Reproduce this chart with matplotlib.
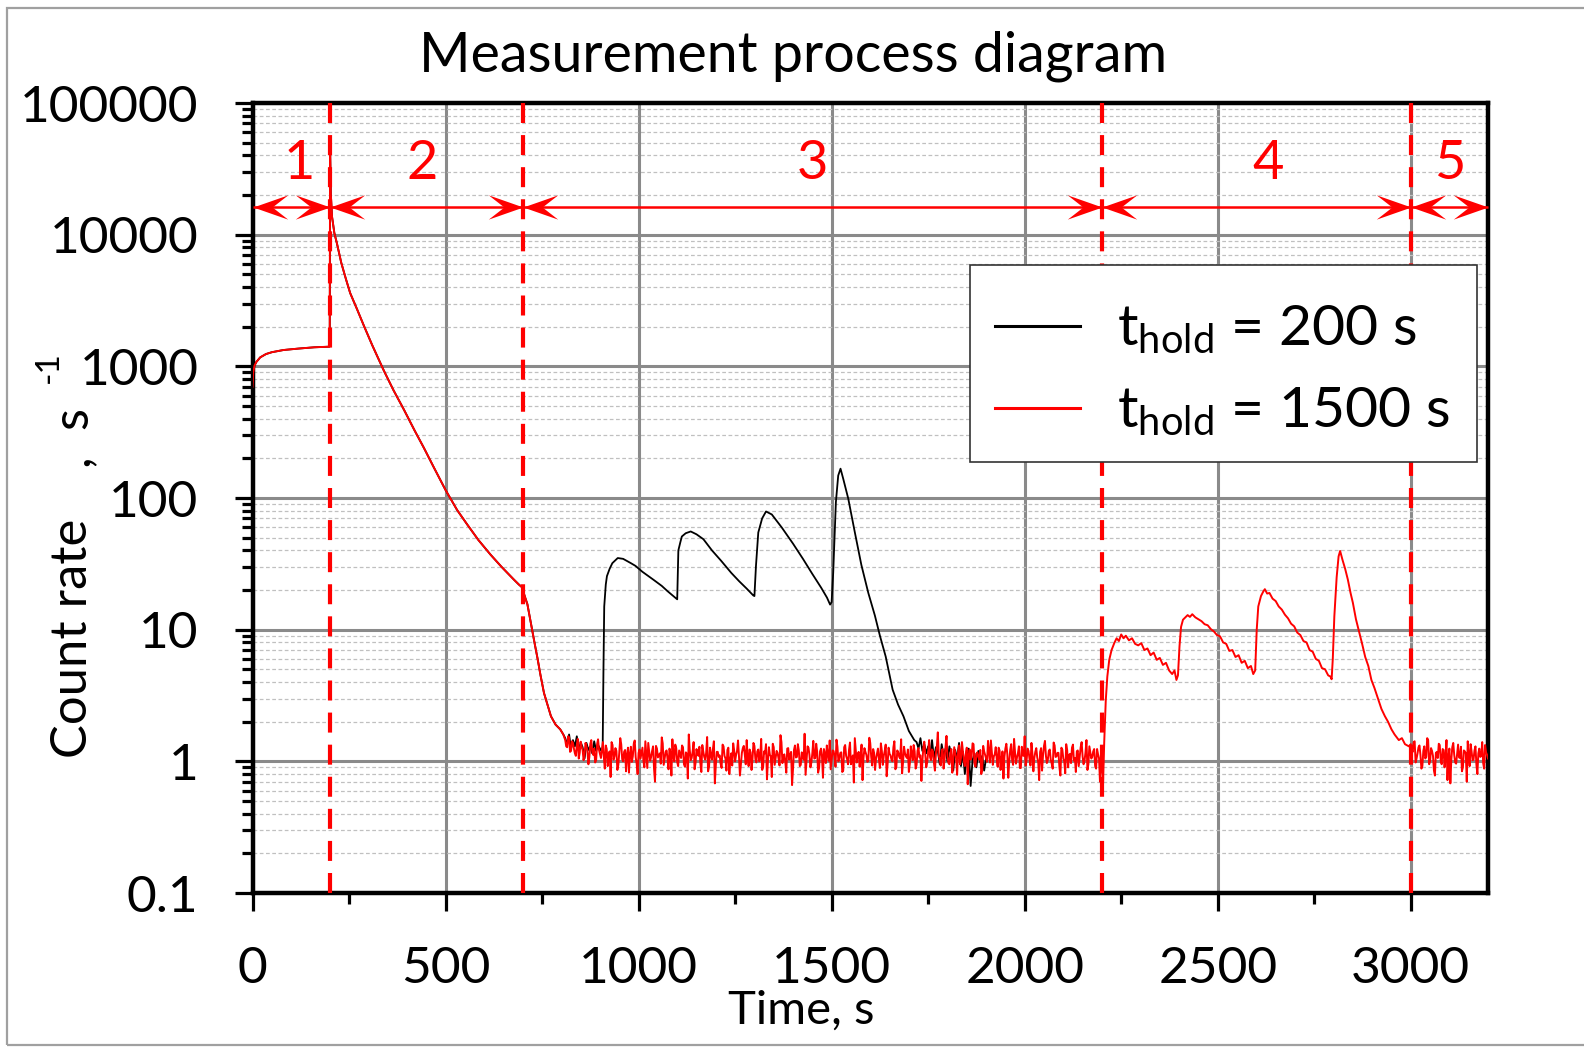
import numpy as np
import matplotlib
matplotlib.use('Agg')
import matplotlib.pyplot as plt
from matplotlib.path import Path
from matplotlib.lines import Line2D
from matplotlib.patches import Rectangle
from matplotlib.ticker import FixedLocator, LogLocator, NullFormatter, FixedFormatter, MultipleLocator

plt.rcParams['font.family'] = ['Lato', 'DejaVu Sans']
plt.rcParams['mathtext.fontset'] = 'custom'
plt.rcParams['mathtext.rm'] = 'Lato'
plt.rcParams['mathtext.it'] = 'Lato:italic'
plt.rcParams['mathtext.bf'] = 'Lato:bold'

# ---------------- data ----------------
# common part (regions 1 and 2, and start of 3)
decay_t = [0, 2, 5, 10, 20, 35, 50, 80, 120, 160, 199, 200, 201, 203, 206, 212, 219, 230, 242,
           253, 270, 288, 310, 340, 365, 392, 420, 444, 470, 500, 530, 556, 585, 617, 645, 677,
           690, 698, 705, 712, 718, 725, 731, 738, 746, 755, 764, 773, 785, 797, 805]
decay_v = [700, 900, 1010, 1080, 1170, 1240, 1280, 1330, 1365, 1395, 1410, 1420, 45000, 20000, 13700,
           10300, 8500, 6100, 4600, 3600, 2750, 2050, 1450, 930, 660, 470, 325, 240, 170, 115, 81,
           63, 48, 37, 30, 24, 22, 21, 18, 15.6, 12.5, 9.7, 7.8, 6.1, 4.5, 3.3, 2.7, 2.2, 1.9, 1.75, 1.6]

# background noise samples: main samples every 5 s, plus samples in between (offset 2.5 s)
noise_step = 5
red_noise_start = 810
red_noise = [
    1.45, 1.28, 1.52, 1.20, 1.38, 1.15, 1.33, 1.05, 1.41, 1.22, 1.12, 1.30, 0.95, 1.36, 1.18, 1.25, 1.02, 1.47, 1.14, 1.21,
    1.08, 1.32, 0.92, 1.19, 1.40, 1.03, 1.26, 0.86, 1.17, 1.35, 1.00, 1.22, 1.12, 0.82, 1.29, 1.09, 1.44, 0.96, 1.16, 1.05,
    1.27, 0.90, 1.13, 1.38, 1.01, 1.20, 0.88, 1.31, 1.07, 1.15, 1.52, 0.94, 1.18, 1.04, 1.25, 0.78, 1.11, 1.34, 0.99, 1.21,
    1.06, 1.28, 0.91, 1.14, 1.60, 1.02, 1.19, 0.87, 1.24, 1.10, 0.97, 1.33, 1.08, 1.16, 0.84, 1.27, 1.03, 1.42, 0.93, 1.18,
    1.11, 0.89, 1.30, 1.05, 1.22, 0.80, 1.15, 1.37, 1.00, 1.20, 1.09, 0.95, 1.26, 1.13, 1.45, 0.92, 1.17, 1.04, 1.31, 0.98,
    1.23, 1.07, 0.86, 1.19, 1.35, 1.01, 1.12, 0.76, 1.28, 1.06, 1.16, 0.93, 1.40, 1.10, 0.99, 1.25, 1.03, 1.18, 0.88, 1.32,
    1.08, 1.21, 0.94, 1.14, 1.62, 1.00, 1.27, 0.90, 1.15, 1.05, 1.36, 0.82, 1.19, 1.09, 1.24, 0.97, 1.13, 1.44, 1.02, 1.20,
    0.91, 1.29, 1.06, 1.17, 0.85, 1.33, 1.04, 1.22, 0.95, 1.11, 1.50, 0.98, 1.18, 1.07, 0.72, 1.26, 1.12, 1.01, 1.38, 0.93,
    1.16, 1.05, 1.25, 0.89, 1.20, 1.10, 1.34, 0.96, 1.14, 1.03, 1.28, 0.87, 1.21, 1.08, 1.47, 0.99, 1.15, 1.06, 0.83, 1.30,
    1.02, 1.19, 0.94, 1.26, 1.11, 1.00, 1.41, 0.90, 1.17, 1.07, 1.23, 0.97, 1.13, 1.66, 1.04, 1.20, 0.88, 1.29, 1.09, 0.95,
    1.24, 1.01, 1.16, 0.79, 1.32, 1.06, 1.18, 0.92, 1.27, 1.12, 1.03, 1.37, 0.96, 1.14, 1.08, 1.22, 0.86, 1.19, 1.05, 1.43,
    0.98, 1.15, 1.09, 1.28, 0.91, 1.21, 1.04, 0.74, 1.25, 1.13, 1.00, 1.35, 0.94, 1.17, 1.07, 1.30, 0.89, 1.11, 1.55, 1.02,
    1.20, 0.93, 1.14, 1.06, 1.26, 0.99, 1.18, 0.85, 1.31, 1.10, 1.03, 1.23, 0.96, 1.39, 1.08, 1.16, 0.90, 1.27, 1.05, 0.81,
    1.22, 1.12, 0.97, 1.34, 1.06, 1.19, 0.92, 1.28, 1.09, 1.01, 1.45, 0.95, 1.17, 1.08, 1.24, 0.88, 1.13, 0.70]
red_noise_mid = [
    1.30, 1.55, 1.18, 1.42, 1.25, 1.10, 1.48, 1.16, 1.29, 1.02, 1.38, 1.20, 1.08, 1.45, 1.12, 0.98, 1.35, 1.22, 1.06, 1.40,
    0.88, 1.24, 1.14, 0.76, 1.33, 1.09, 1.20, 0.94, 1.50, 1.04, 1.18, 0.84, 1.27, 1.13, 0.99, 1.36, 1.07, 0.80, 1.23, 1.15,
    1.01, 1.42, 0.89, 1.19, 1.08, 1.30, 0.70, 1.25, 1.11, 0.96, 1.37, 1.05, 1.21, 0.87, 1.16, 1.47, 1.00, 1.26, 0.92, 1.13,
    1.32, 0.95, 1.17, 0.74, 1.22, 1.06, 1.40, 0.97, 1.14, 1.29, 0.83, 1.19, 1.03, 1.53, 0.91, 1.12, 1.24, 0.68, 1.18, 1.08,
    0.96, 1.34, 1.10, 0.85, 1.27, 1.02, 0.93, 1.21, 1.12, 1.44, 0.78, 1.16, 1.31, 0.95, 1.07, 1.23, 0.86, 1.38, 1.04, 1.19,
    1.00, 1.48, 0.90, 1.15, 0.73, 1.28, 1.09, 1.36, 0.94, 1.20, 1.05, 1.58, 0.97, 1.13, 0.82, 1.26, 1.11, 0.66, 1.22, 1.07,
    1.35, 0.92, 1.17, 1.03, 0.79, 1.30, 1.12, 0.98, 1.43, 1.06, 1.18, 0.89, 1.25, 0.75, 1.14, 1.32, 1.01, 0.87, 1.21, 1.09,
    1.46, 1.00, 1.16, 0.83, 1.28, 1.10, 0.95, 1.39, 1.04, 0.69, 1.22, 1.13, 0.91, 1.34, 1.06, 1.18, 0.99, 1.51, 1.08, 1.24,
    0.86, 1.15, 1.03, 1.37, 0.94, 1.20, 0.77, 1.27, 1.11, 1.00, 1.42, 0.90, 1.17, 1.05, 0.81, 1.29, 1.09, 1.23, 0.96, 1.14,
    1.33, 0.88, 1.21, 1.07, 0.71, 1.26, 1.12, 0.98, 1.45, 1.02, 1.19, 0.85, 1.30, 1.10, 0.93, 1.24, 1.04, 1.56, 0.97, 1.16,
    0.82, 1.28, 1.06, 1.18, 0.95, 1.40, 1.01, 1.14, 0.67, 1.23, 1.09, 1.35, 0.91, 1.17, 1.03, 0.80, 1.31, 1.12, 0.99, 1.20,
    1.44, 0.94, 1.13, 1.05, 1.27, 0.86, 1.19, 1.08, 1.36, 0.75, 1.22, 1.02, 1.48, 0.96, 1.15, 0.89, 1.29, 1.10, 0.93, 1.25,
    1.04, 1.38, 0.84, 1.18, 1.07, 0.72, 1.26, 1.11, 1.43, 0.97, 1.20, 1.03, 0.88, 1.32, 1.09, 1.16, 0.78, 1.23, 1.00, 1.35,
    0.90, 1.14, 1.27, 1.01, 0.83, 1.21, 1.08, 1.40, 0.95, 1.17, 0.86, 1.30, 1.05, 1.19, 0.92, 1.24, 1.06, 0.98]

# region 4 peaks (t_hold = 1500 s)
red_peak_t = [2200, 2203, 2206, 2210, 2214, 2219, 2225, 2232, 2238, 2244, 2250, 2256, 2262, 2270, 2278, 2286,
              2294, 2302, 2310, 2318, 2326, 2334, 2342, 2350, 2358, 2366, 2374, 2382, 2388, 2393, 2397, 2401,
              2405, 2410, 2416, 2422, 2428, 2434, 2442, 2450, 2458, 2466, 2474, 2482, 2490, 2498, 2506, 2514,
              2522, 2530, 2538, 2546, 2554, 2562, 2570, 2578, 2586, 2592, 2597, 2601, 2605, 2612, 2618, 2622,
              2628, 2634, 2642, 2650, 2658, 2666, 2674, 2682, 2690, 2698, 2706, 2714, 2722, 2730, 2738, 2746,
              2754, 2762, 2770, 2778, 2786, 2792, 2795, 2798, 2802, 2808, 2813, 2817, 2823, 2830, 2837, 2844,
              2850, 2858, 2867, 2874, 2882, 2890, 2898, 2906, 2915, 2924, 2933, 2941, 2950, 2958, 2969, 2977,
              2985, 2995]
red_peak_v = [0.95, 0.68, 1.4, 2.9, 4.4, 5.9, 7.0, 7.9, 8.6, 8.2, 9.2, 8.6, 9.0, 8.3, 8.6, 7.8,
              7.6, 7.9, 7.0, 7.2, 6.4, 6.7, 5.9, 6.1, 5.4, 5.6, 4.9, 4.6, 4.9, 4.15, 4.5, 7.5,
              10.5, 11.9, 12.4, 12.9, 12.5, 13.1, 12.4, 12.0, 11.6, 11.0, 10.8, 10.1, 9.7, 9.1, 8.9, 8.0,
              7.8, 6.9, 7.0, 6.2, 6.4, 5.6, 5.8, 5.1, 5.3, 4.6, 4.9, 10.0, 15.0, 18.0, 19.5, 20.3,
              18.8, 19.0, 17.2, 16.5, 15.0, 14.2, 13.0, 12.2, 11.1, 10.6, 9.5, 9.1, 8.2, 8.0, 7.0, 6.8,
              6.0, 5.8, 5.1, 5.0, 4.5, 4.4, 4.2, 6.0, 12.6, 25.0, 36.0, 39.6, 34.0, 29.0, 24.0, 19.0,
              16.0, 12.0, 9.4, 7.8, 6.2, 5.3, 4.15, 3.6, 3.0, 2.5, 2.2, 2.0, 1.75, 1.6, 1.45, 1.5,
              1.35, 1.3]

red_end_start = 3000
red_end_noise = [
    1.35, 1.18, 1.42, 1.05, 1.28, 1.12, 0.92, 1.30, 1.08, 1.45, 1.00, 1.20, 0.85, 1.16, 1.06, 1.33, 0.95, 1.22, 1.10, 0.72,
    1.25, 1.03, 1.38, 0.98, 1.14, 1.07, 1.29, 0.90, 1.19, 0.70, 1.11, 1.35, 1.02, 1.21, 0.94, 1.15, 1.08, 1.40, 0.88, 1.17, 1.05]
red_end_mid = [
    1.22, 1.40, 0.98, 1.15, 1.32, 0.88, 1.20, 1.05, 1.50, 0.95, 1.26, 1.10, 0.78, 1.18, 1.36, 1.02, 1.24, 0.90, 1.45, 1.08,
    0.68, 1.28, 1.12, 0.96, 1.34, 1.06, 0.84, 1.21, 1.15, 1.42, 0.92, 1.19, 1.03, 1.30, 0.80, 1.25, 1.10, 0.97, 1.33, 1.12]

# t_hold = 200 s series
black_noise1_start = 810
black_noise1 = [1.50, 1.35, 1.60, 1.25, 1.45, 1.30, 1.55, 1.20, 1.40, 1.28, 1.05, 1.38, 1.22, 1.30, 1.15, 1.42, 1.20,
                1.33, 1.25, 1.18]
black_peak_t = [907, 909, 911, 915, 918, 925, 932, 946, 960, 980, 992, 1010, 1038, 1060, 1075, 1095, 1100,
                1103, 1108, 1112, 1122, 1135, 1150, 1168, 1190, 1214, 1240, 1260, 1280, 1297, 1300,
                1304, 1310, 1320, 1330, 1345, 1371, 1400, 1426, 1450, 1473, 1488, 1496, 1500,
                1504, 1511, 1517, 1523, 1530, 1543, 1560, 1577, 1595, 1612, 1625, 1640, 1658, 1672,
                1686, 1700, 1714]
black_peak_v = [1.3, 5.0, 15.0, 22.0, 25.5, 29.0, 32.0, 35.0, 34.5, 32.0, 30.5, 27.5, 24.0, 21.5, 19.6, 17.5, 17.0,
                40.0, 46.0, 51.0, 54.0, 55.7, 53.0, 48.6, 40.0, 33.3, 27.0, 23.4, 20.5, 18.2, 18.0,
                30.5, 54.7, 70.0, 79.0, 75.0, 59.6, 45.0, 34.4, 26.5, 20.8, 17.5, 15.5, 16.2,
                27.0, 93.0, 148.0, 167.0, 140.0, 99.0, 55.0, 31.0, 19.0, 12.8, 9.0, 6.25, 3.5, 2.7,
                2.2, 1.7, 1.45]
black_noise2_start = 1720
black_noise2 = [1.40, 1.25, 1.50, 1.20, 1.35, 1.15, 1.30, 1.10, 1.45, 1.05, 1.28, 1.20, 0.95, 1.35, 1.10, 1.25, 1.00,
                1.30, 1.12, 0.85, 1.22, 1.05, 1.38, 0.92, 1.18, 0.80, 1.10, 1.25, 0.65, 1.02, 1.15, 0.90, 1.20,
                0.98, 1.10, 0.85, 1.05]

boundaries = [0, 200, 700, 2200, 3000, 3200]
region_labels = ['1', '2', '3', '4', '5']
region_label_x = [120, 440, 1450, 2630, 3100]
x_ticks = [0, 500, 1000, 1500, 2000, 2500, 3000]
y_ticks = [0.1, 1, 10, 100, 1000, 10000, 100000]
y_ticklabels = ['0.1', '1', '10', '100', '1000', '10000', '100000']
legend_labels = [r't$_{\mathregular{hold}}$ = 200 s', r't$_{\mathregular{hold}}$ = 1500 s']


# ---------------- assemble series ----------------
def seg(start, vals):
    return [start + noise_step * i for i in range(len(vals))]


def interleave(start, main, mid):
    ts, vs = [], []
    for i, v in enumerate(main):
        ts.append(start + noise_step * i)
        vs.append(v)
        if i < len(mid):
            ts.append(start + noise_step * i + noise_step / 2)
            vs.append(mid[i])
    return ts, vs


rn_t, rn_v = interleave(red_noise_start, red_noise, red_noise_mid)
re_t, re_v = interleave(red_end_start, red_end_noise, red_end_mid)

t_black = decay_t + seg(black_noise1_start, black_noise1) + black_peak_t + seg(black_noise2_start, black_noise2)
v_black = decay_v + black_noise1 + black_peak_v + black_noise2
t_red = decay_t + rn_t + red_peak_t + re_t
v_red = decay_v + rn_v + red_peak_v + re_v

# ---------------- figure ----------------
W, H = 1584, 1047
fig = plt.figure(figsize=(W / 100, H / 100), dpi=100)
ax = fig.add_axes([252.5 / W, 1 - 893 / H, (1488 - 252.5) / W, (893 - 103) / H])
ax.set_yscale('log')
ax.set_xlim(0, 3200)
ax.set_ylim(0.1, 1e5)

ax.xaxis.set_major_locator(FixedLocator(x_ticks))
ax.xaxis.set_minor_locator(MultipleLocator(250))
ax.yaxis.set_major_locator(FixedLocator(y_ticks))
ax.yaxis.set_major_formatter(FixedFormatter(y_ticklabels))
ax.yaxis.set_minor_locator(LogLocator(base=10, subs=np.arange(2, 10), numticks=20))
ax.yaxis.set_minor_formatter(NullFormatter())

ax.grid(True, which='major', axis='both', color='#8a8a8a', lw=2.2, zorder=0)
ax.grid(True, which='minor', axis='y', color='#c0c0c0', lw=0.9, ls=(0, (3, 2)), zorder=0)
ax.set_axisbelow(True)

for s in ax.spines.values():
    s.set_linewidth(3.2)
    s.set_color('black')

ax.tick_params(axis='both', which='major', direction='out', length=13, width=2.3,
               labelsize=37, top=False, right=False)
ax.tick_params(axis='both', which='minor', direction='out', length=8, width=2.3,
               top=False, right=False)
ax.tick_params(axis='y', which='major', pad=26)
ax.tick_params(axis='x', which='major', pad=25)

ax.plot(t_black, v_black, color='black', lw=1.3, zorder=3)
ax.plot(t_red, v_red, color='#ff0000', lw=1.4, zorder=4)

for b in boundaries[1:-1]:
    ax.axvline(b, color='#ff0000', lw=3, ls=(0, (4.8, 2.9)), zorder=5)

# double arrows
arrow_y = 16300
right_head = Path([(0, 0), (-1, 0.35), (-0.55, 0), (-1, -0.35), (0, 0)],
                  [Path.MOVETO, Path.LINETO, Path.LINETO, Path.LINETO, Path.CLOSEPOLY])
left_head = Path([(0, 0), (1, 0.35), (0.55, 0), (1, -0.35), (0, 0)],
                 [Path.MOVETO, Path.LINETO, Path.LINETO, Path.LINETO, Path.CLOSEPOLY])
for a, b in zip(boundaries[:-1], boundaries[1:]):
    ax.plot([a, b], [arrow_y, arrow_y], color='#ff0000', lw=1.8, zorder=6, clip_on=False,
            solid_capstyle='butt')
    ax.plot([a], [arrow_y], marker=left_head, ms=50, color='#ff0000', mew=0, zorder=6, clip_on=False)
    ax.plot([b], [arrow_y], marker=right_head, ms=50, color='#ff0000', mew=0, zorder=6, clip_on=False)

for lab, x in zip(region_labels, region_label_x):
    ax.text(x, 35000, lab, color='#ff0000', fontsize=39, ha='center', va='center', zorder=6)

# legend (frame drawn separately to match the box size)
ax.add_patch(Rectangle((970 / W, 1 - 462 / H), (1477 - 970) / W, (462 - 265) / H,
                       transform=fig.transFigure, facecolor='white', edgecolor='#333333',
                       lw=1.2, zorder=9, clip_on=False))
handles = [Line2D([], [], color='black', lw=2.2), Line2D([], [], color='#ff0000', lw=2.2)]
leg = ax.legend(handles, legend_labels, loc='center left', bbox_to_anchor=(995 / W, 1 - 371 / H),
                bbox_transform=fig.transFigure, fontsize=41, frameon=False, borderpad=0,
                handlelength=1.5, handletextpad=0.65, labelspacing=0.51, borderaxespad=0)
leg.set_zorder(10)

fig.text(793 / W, 1 - 56 / H, 'Measurement process diagram', fontsize=40, ha='center', va='center')
fig.text(801 / W, 1 - 1011 / H, 'Time, s', fontsize=34, ha='center', va='center')

# y label: "Count rate , s" with a hyphen superscript, placed piece by piece (rotated)
ylab_kw = dict(rotation=90, rotation_mode='anchor', ha='left', va='baseline')
fig.text(87 / W, 1 - 758 / H, 'Count rate', fontsize=36.5, **ylab_kw)
fig.text(87 / W, 1 - 466 / H, ',', fontsize=36.5, **ylab_kw)
fig.text(87 / W, 1 - 429 / H, 's', fontsize=36.5, **ylab_kw)
fig.text(58 / W, 1 - 383 / H, '-1', fontsize=24, **ylab_kw)

fig.patches.append(Rectangle((7 / W, 2 / H), 1.0, 1 - 8 / H - 2 / H, transform=fig.transFigure,
                             fill=False, edgecolor='#a0a0a0', lw=1.6))

fig.savefig('out.png', dpi=100)
